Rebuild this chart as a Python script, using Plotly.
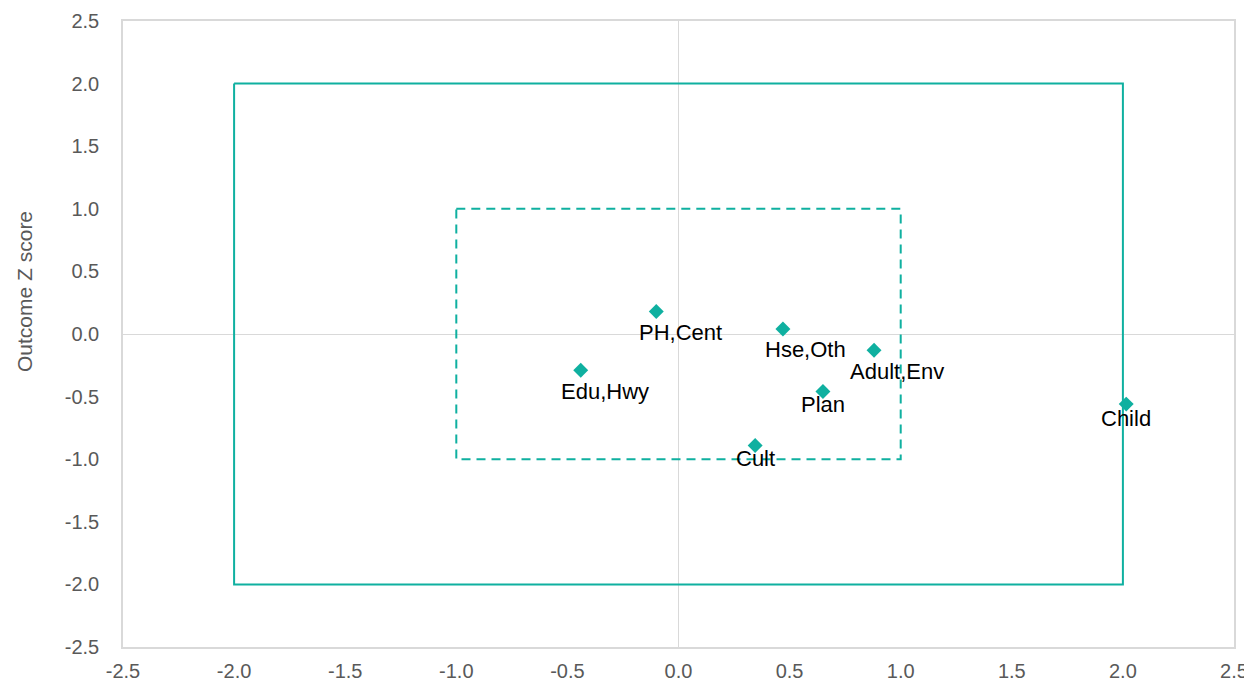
import plotly.graph_objects as go

# Data
labels = ["PH,Cent", "Hse,Oth", "Adult,Env", "Edu,Hwy", "Plan", "Cult", "Child"]
x_vals = [-0.10, 0.47, 0.88, -0.44, 0.65, 0.345, 2.015]
y_vals = [0.18, 0.04, -0.13, -0.29, -0.46, -0.89, -0.56]

outer_box_x = [-2, 2, 2, -2, -2]
outer_box_y = [2, 2, -2, -2, 2]
inner_box_x = [-1, 1, 1, -1, -1]
inner_box_y = [1, 1, -1, -1, 1]

tick_vals = [-2.5, -2.0, -1.5, -1.0, -0.5, 0.0, 0.5, 1.0, 1.5, 2.0, 2.5]
tick_text = ["-2.5", "-2.0", "-1.5", "-1.0", "-0.5", "0.0", "0.5", "1.0", "1.5", "2.0", "2.5"]

# label offsets in pixels (style)
label_dx = [24, 23, 23, 24, 0, 0, 0]
label_dy = [-21, -21, -21, -21, -13, -13, -14]

teal = "#0FB0A0"
fig = go.Figure()

fig.add_trace(go.Scatter(x=outer_box_x, y=outer_box_y, mode="lines",
                         line=dict(color=teal, width=2), hoverinfo="skip", showlegend=False))
fig.add_trace(go.Scatter(x=inner_box_x, y=inner_box_y, mode="lines",
                         line=dict(color=teal, width=2, dash="9px,6px"), hoverinfo="skip", showlegend=False))
fig.add_trace(go.Scatter(x=x_vals, y=y_vals, mode="markers",
                         marker=dict(symbol="diamond", size=11.5, color=teal), showlegend=False))

label_font = dict(family="Liberation Sans, Arial", size=22, color="#000000")
for lab, xv, yv, dx, dy in zip(labels, x_vals, y_vals, label_dx, label_dy):
    fig.add_annotation(x=xv, y=yv, text=lab, showarrow=False, xshift=dx, yshift=dy,
                       font=label_font, xanchor="center", yanchor="middle")

axis_common = dict(
    range=[-2.5, 2.5], tickvals=tick_vals, ticktext=tick_text,
    showgrid=False, zeroline=True, zerolinecolor="#D9D9D9", zerolinewidth=1,
    showline=True, linecolor="#D9D9D9", linewidth=1.5, mirror=True,
    tickfont=dict(family="Liberation Sans, Arial", size=20, color="#595959"),
    ticks="", automargin=False,
)

fig.update_layout(
    width=1244, height=673,
    margin=dict(l=115, r=18, t=13, b=34),
    paper_bgcolor="white", plot_bgcolor="white",
    xaxis=dict(**axis_common, ticklabelstandoff=5),
    yaxis=dict(**axis_common, ticklabelstandoff=18),
)

fig.add_annotation(text="Outcome Z score", xref="paper", yref="paper", x=0, y=0.5,
                   xshift=-99, yshift=42, textangle=-90, showarrow=False,
                   xanchor="center", yanchor="middle",
                   font=dict(family="Liberation Sans, Arial", size=21, color="#595959"))

fig.write_html("out.html")
